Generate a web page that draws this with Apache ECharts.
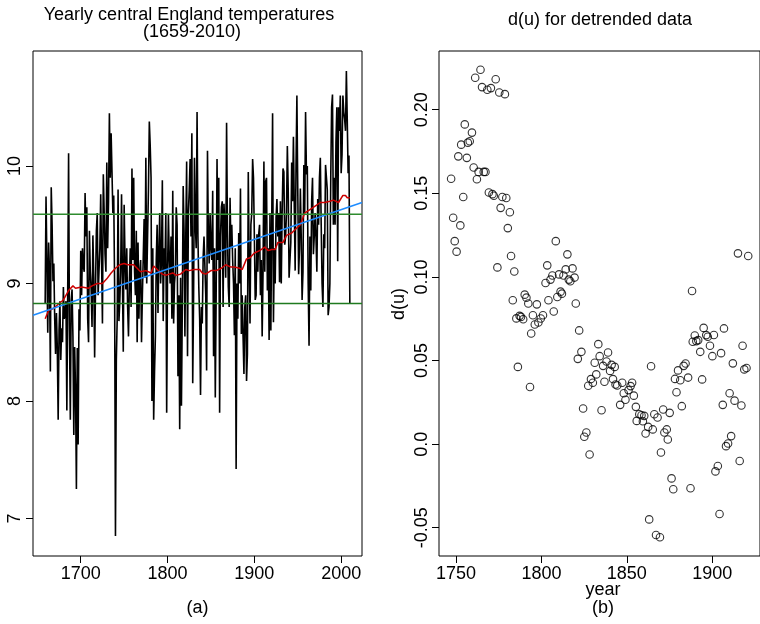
<!DOCTYPE html>
<html><head><meta charset="utf-8">
<script src="https://cdn.jsdelivr.net/npm/echarts@6/dist/echarts.min.js"></script>
<style>html,body{margin:0;padding:0;background:#fff}#c{width:760px;height:624px}</style>
</head><body><div id="c"></div>
<script>
// ---- Panel (a): yearly central England temperatures ----
const startYear = 1659;
const temps = [
  8.83,
  9.74, 9.20, 8.58, 9.35, 9.10, 8.25, 9.82, 9.50, 9.02, 9.17,
  8.70, 8.40, 8.75, 8.45, 7.84, 8.60, 8.85, 8.35, 8.62, 8.50,
  8.97, 8.70, 8.75, 8.85, 7.92, 8.95, 10.11, 8.60, 7.84, 8.85,
  8.95, 8.55, 7.71, 8.46, 8.10, 7.25, 8.45, 7.63, 8.78, 8.60,
  9.28, 8.90, 9.30, 9.15, 9.10, 9.77, 9.40, 9.65, 8.70, 8.50,
  9.45, 9.10, 8.95, 8.63, 9.41, 9.05, 8.37, 8.95, 9.45, 9.60,
  8.90, 9.10, 9.30, 9.76, 9.20, 8.66, 9.93, 9.60, 9.25, 9.10,
  10.03, 9.30, 9.70, 10.45, 9.90, 10.28, 9.95, 9.60, 9.75, 9.00,
  6.85, 8.35, 8.70, 9.80, 8.68, 8.85, 9.10, 9.76, 9.05, 8.42,
  9.67, 9.20, 8.95, 9.30, 8.80, 8.55, 9.00, 9.30, 8.80, 9.98,
  9.20, 9.90, 9.10, 8.90, 9.45, 8.50, 9.35, 8.70, 9.10, 9.20,
  8.50, 8.90, 9.22, 9.55, 9.05, 10.07, 9.00, 9.40, 9.80, 10.38,
  10.18, 9.90, 8.00, 9.30, 7.84, 8.25, 8.55, 9.20, 9.50, 8.75,
  9.28, 9.60, 9.00, 9.20, 9.88, 8.68, 9.30, 9.10, 9.60, 7.90,
  9.10, 9.59, 9.20, 9.00, 9.40, 8.70, 9.79, 8.66, 9.00, 9.10,
  9.65, 9.50, 8.21, 8.90, 7.76, 9.05, 7.96, 8.80, 9.83, 9.45,
  8.55, 9.40, 10.04, 8.38, 9.60, 9.80, 10.06, 9.40, 10.28, 8.15,
  8.90, 10.07, 9.50, 9.30, 10.46, 9.40, 8.97, 8.70, 8.05, 8.80,
  8.66, 9.22, 9.40, 9.40, 8.90, 8.26, 10.13, 9.41, 9.17, 9.60,
  9.30, 9.20, 9.79, 8.38, 9.30, 8.03, 8.90, 10.06, 9.20, 9.90,
  7.90, 9.40, 9.65, 9.70, 8.80, 9.68, 9.50, 9.05, 10.37, 9.45,
  8.97, 8.80, 9.73, 9.30, 9.50, 9.20, 9.00, 8.56, 9.30, 7.42,
  9.00, 8.70, 9.43, 9.00, 9.81, 8.57, 8.90, 8.55, 8.23, 8.80,
  8.90, 8.17, 8.40, 9.95, 9.20, 8.66, 9.50, 9.60, 10.06, 9.90,
  9.40, 8.86, 8.90, 9.42, 9.10, 9.42, 9.50, 8.90, 9.20, 8.55,
  9.10, 10.04, 9.10, 9.87, 9.90, 8.94, 9.30, 8.52, 9.60, 8.60,
  9.50, 10.45, 8.67, 9.30, 9.00, 9.56, 9.72, 9.40, 9.60, 9.01,
  9.70, 9.00, 9.60, 9.98, 9.95, 9.33, 9.40, 9.60, 10.17, 9.80,
  9.05, 9.05, 9.35, 10.03, 9.70, 10.25, 9.65, 9.11, 10.00, 10.60,
  9.80, 9.08, 9.30, 9.81, 9.40, 8.86, 9.10, 10.01, 9.60, 10.46,
  9.93, 10.00, 9.00, 8.47, 9.40, 8.94, 9.70, 9.90, 9.25, 9.40,
  9.60, 9.39, 9.10, 9.72, 9.50, 9.90, 10.07, 9.50, 9.00, 8.80,
  9.42, 9.30, 10.01, 10.00, 9.80, 8.73, 8.80, 9.00, 9.90, 10.50,
  10.61, 9.50, 9.90, 9.50, 10.20, 10.50, 9.19, 10.50, 10.30, 10.60,
  9.94, 10.10, 10.60, 10.46, 10.40, 10.30, 10.81, 10.40, 9.94, 10.09,
  8.83
];
const runYears = [1659,1663,1669,1675,1680,1686,1691,1694,1701,1709,1713,1719,1725,1730,1735,1740,1745,1750,1754,1761,1765,1769,1775,1781,1784,1788,1794,1798,1802,1806,1810,1815,1821,1825,1831,1837,1840,1844,1850,1856,1862,1867,1873,1877,1883,1886,1891,1895,1900,1906,1912,1916,1920,1924,1927,1933,1937,1943,1947,1953,1958,1964,1970,1976,1981,1987,1991,1997,2002,2005,2007,2010];
const runMeans = [8.70,8.77,8.79,8.83,8.86,8.94,8.98,8.96,8.97,8.96,8.98,9.00,9.00,9.04,9.09,9.13,9.16,9.17,9.16,9.16,9.13,9.10,9.11,9.09,9.15,9.12,9.08,9.07,9.08,9.09,9.07,9.08,9.12,9.11,9.12,9.12,9.09,9.08,9.11,9.11,9.13,9.16,9.14,9.14,9.13,9.12,9.21,9.22,9.26,9.28,9.31,9.28,9.29,9.29,9.35,9.35,9.41,9.43,9.46,9.50,9.60,9.63,9.66,9.69,9.69,9.70,9.71,9.69,9.75,9.75,9.73,9.73];
const trendYears = [1645, 2024];
const trendVals = [8.73, 9.69];
const refLevels = [9.59, 8.83];
const xTicksA = [1700, 1800, 1900, 2000];
const yTicksA = [7, 8, 9, 10];

// ---- Panel (b): d(u) for detrended data ----
const duYears = [1747.1,1748.3,1749.2,1750.3,1751.3,1752.5,1753.0,1754.2,1755.1,1756.3,1756.9,1758.0,1759.3,1760.3,1761.2,1762.2,1763.2,1764.3,1765.2,1766.2,1767.2,1768.3,1769.2,1770.4,1771.3,1772.1,1773.2,1774.2,1775.3,1776.1,1777.1,1778.6,1779.4,1780.3,1781.5,1782.2,1783.2,1784.1,1785.3,1786.2,1787.2,1788.0,1789.3,1790.2,1791.2,1792.3,1793.3,1794.0,1795.0,1796.1,1797.3,1798.2,1799.6,1800.9,1802.4,1803.4,1804.1,1805.3,1806.4,1807.2,1808.4,1809.3,1810.3,1811.2,1812.0,1812.9,1814.2,1815.2,1816.0,1816.9,1818.2,1819.4,1820.1,1821.3,1822.1,1823.4,1824.4,1825.1,1826.3,1827.4,1828.2,1829.0,1830.1,1831.2,1832.1,1833.3,1834.1,1835.2,1836.1,1836.9,1838.1,1839.0,1840.2,1841.1,1841.9,1842.9,1843.4,1844.4,1846.1,1847.3,1848.2,1849.2,1851.0,1852.2,1853.1,1854.1,1855.3,1855.8,1857.3,1858.6,1859.4,1860.2,1861.0,1862.5,1863.1,1864.2,1865.2,1866.1,1867.1,1868.0,1869.4,1870.0,1871.3,1872.0,1873.4,1874.0,1875.1,1876.2,1877.2,1878.2,1879.1,1880.0,1881.3,1882.2,1883.3,1884.4,1885.9,1887.3,1888.2,1888.6,1889.8,1890.7,1891.8,1893.0,1894.1,1895.0,1896.5,1897.4,1898.7,1900.1,1901.0,1901.9,1903.3,1904.3,1905.2,1906.2,1906.9,1908.1,1909.3,1910.2,1911.1,1912.1,1913.1,1915.1,1916.1,1917.1,1917.8,1918.8,1920.1,1921.1];
const duVals = [0.1587,0.1354,0.1214,0.1151,0.1721,0.1308,0.1791,0.1478,0.1912,0.1712,0.1803,0.1811,0.1863,0.1654,0.2191,0.1584,0.1628,0.2239,0.2135,0.1628,0.1628,0.2119,0.1505,0.2129,0.1495,0.1485,0.2182,0.1057,0.2103,0.1413,0.1478,0.2093,0.1472,0.1292,0.1387,0.1125,0.0860,0.1032,0.0752,0.0462,0.0767,0.0761,0.0747,0.0894,0.0876,0.0841,0.0342,0.0662,0.0771,0.0715,0.0836,0.0727,0.0751,0.0771,0.0964,0.1069,0.0860,0.0984,0.1008,0.0793,0.1214,0.0880,0.1015,0.0912,0.0900,0.1008,0.1045,0.1135,0.0984,0.0974,0.1051,0.0996,0.0841,0.0510,0.0680,0.0552,0.0213,0.0044,0.0070,0.0349,-0.0062,0.0389,0.0367,0.0487,0.0417,0.0598,0.0526,0.0203,0.0468,0.0373,0.0494,0.0548,0.0438,0.0474,0.0389,0.0462,0.0357,0.0351,0.0235,0.0367,0.0304,0.0265,0.0323,0.0347,0.0367,0.0290,0.0223,0.0139,0.0179,0.0173,0.0137,0.0169,0.0064,0.0103,-0.0450,0.0466,0.0088,0.0179,-0.0543,0.0159,-0.0557,-0.0050,0.0207,0.0070,0.0088,0.0028,0.0187,-0.0205,-0.0270,0.0390,0.0310,0.0441,0.0382,0.0227,0.0468,0.0482,0.0398,-0.0264,0.0916,0.0612,0.0650,0.0616,0.0622,0.0552,0.0387,0.0695,0.0652,0.0642,0.0588,0.0526,0.0653,-0.0163,-0.0131,-0.0418,0.0544,0.0235,0.0692,-0.0012,0.0004,0.0304,0.0048,0.0483,0.0260,0.1141,-0.0101,0.0231,0.0588,0.0447,0.0455,0.1125];
const xTicksB = [1750, 1800, 1850, 1900];
const yTicksB = [-0.05, 0, 0.05, 0.10, 0.15, 0.20];
const yLabelsB = ['-0.05', '0.0', '0.05', '0.10', '0.15', '0.20'];

const FONT = '"Liberation Sans", Arial, Helvetica, sans-serif';
const chart = echarts.init(document.getElementById('c'), null, {renderer: 'canvas'});

const tempData = temps.map((v, i) => [startYear + i, v]);
const runData = runYears.map((y, i) => [y, runMeans[i]]);
const trendData = trendYears.map((y, i) => [y, trendVals[i]]);
const duData = duYears.map((y, i) => [y, duVals[i]]);

function txt(text, x, y, rot) {
  return { type: 'text', x: x, y: y, rotation: rot || 0, silent: true,
    style: { text: text, fill: '#000', font: '18px ' + FONT, align: 'center', verticalAlign: 'middle' } };
}

const axisCommonX = (ticks) => ({
  type: 'value', axisLine: { show: false, onZero: false }, splitLine: { show: false },
  axisTick: { show: true, length: 7, customValues: ticks, lineStyle: { color: '#000', width: 1 } },
  axisLabel: { customValues: ticks, color: '#000', fontSize: 18, fontFamily: FONT, margin: 9,
    formatter: (v) => String(Math.round(v)) }
});

chart.setOption({
  animation: false,
  backgroundColor: '#fff',
  grid: [
    { left: 33, right: 398, top: 51, bottom: 68, show: true, borderColor: '#000', borderWidth: 1, containLabel: false },
    { left: 439, right: -8, top: 51, bottom: 68, show: true, borderColor: '#000', borderWidth: 1, containLabel: false }
  ],
  xAxis: [
    Object.assign(axisCommonX(xTicksA), { gridIndex: 0, min: 1645, max: 2024 }),
    Object.assign(axisCommonX(xTicksB), { gridIndex: 1, min: 1740, max: 1928 })
  ],
  yAxis: [
    { type: 'value', gridIndex: 0, min: 6.68, max: 10.98, axisLine: { show: false, onZero: false }, splitLine: { show: false },
      axisTick: { show: true, length: 7, customValues: yTicksA, lineStyle: { color: '#000' } },
      axisLabel: { customValues: yTicksA, rotate: 90, color: '#000', fontSize: 18, fontFamily: FONT, margin: 9,
        formatter: (v) => String(Math.round(v)) } },
    { type: 'value', gridIndex: 1, min: -0.0669, max: 0.2351, axisLine: { show: false, onZero: false }, splitLine: { show: false },
      axisTick: { show: true, length: 7, customValues: yTicksB, lineStyle: { color: '#000' } },
      axisLabel: { customValues: yTicksB, rotate: 90, color: '#000', fontSize: 18, fontFamily: FONT, margin: 8,
        formatter: (v) => { const k = yTicksB.findIndex(t => Math.abs(t - v) < 1e-9); return k >= 0 ? yLabelsB[k] : ''; } } }
  ],
  series: [
    { type: 'line', name: 'temperature', xAxisIndex: 0, yAxisIndex: 0, data: tempData, showSymbol: false, symbol: 'none',
      lineStyle: { color: '#000', width: 1.6 }, z: 1, silent: true },
    { type: 'line', name: 'running mean', xAxisIndex: 0, yAxisIndex: 0, data: runData, showSymbol: false, symbol: 'none',
      lineStyle: { color: '#cc0000', width: 1.5 }, z: 2, silent: true },
    { type: 'line', name: 'trend', xAxisIndex: 0, yAxisIndex: 0, data: trendData, showSymbol: false, symbol: 'none',
      lineStyle: { color: '#1e8cff', width: 1.5 }, z: 3, silent: true },
    { type: 'line', name: 'upper level', xAxisIndex: 0, yAxisIndex: 0, data: trendYears.map(y => [y, refLevels[0]]), showSymbol: false, symbol: 'none',
      lineStyle: { color: '#2e8b2e', width: 1.5 }, z: 3, silent: true },
    { type: 'line', name: 'lower level', xAxisIndex: 0, yAxisIndex: 0, data: trendYears.map(y => [y, refLevels[1]]), showSymbol: false, symbol: 'none',
      lineStyle: { color: '#1f7a1f', width: 1.5 }, z: 3, silent: true },
    { type: 'scatter', name: 'd(u)', xAxisIndex: 1, yAxisIndex: 1, data: duData, symbol: 'circle', symbolSize: 7.5,
      itemStyle: { color: 'rgba(0,0,0,0)', borderColor: '#000', borderWidth: 1.1 }, silent: true }
  ],
  graphic: [
    txt('Yearly central England temperatures', 189, 15),
    txt('(1659-2010)', 192, 32),
    txt('(a)', 197.5, 608),
    txt('d(u) for detrended data', 600, 20),
    txt('year', 603, 590),
    txt('(b)', 603, 608),
    txt('d(u)', 399, 304, Math.PI / 2)
  ]
});
</script>
</body></html>
